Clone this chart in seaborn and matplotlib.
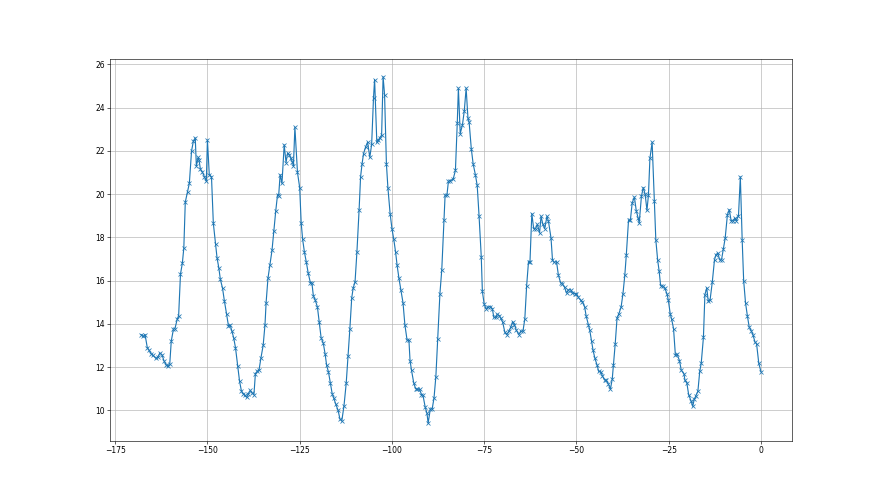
import matplotlib
matplotlib.use("Agg")
import matplotlib.pyplot as plt
import seaborn as sns
import pandas as pd

hours = [
    -168.0, -167.4, -166.9, -166.3, -165.8, -165.2, -164.7, -164.0, -163.4, -162.9,
    -162.3, -161.8, -161.2, -160.8, -160.2, -159.8, -159.2, -158.8, -158.2, -157.8,
    -157.3, -156.8, -156.4, -156.0, -155.4, -154.9, -154.3, -153.8, -153.3, -153.0,
    -152.5, -152.3, -151.9, -151.4, -150.8, -150.3, -150.0, -149.5, -148.9, -148.4,
    -147.8, -147.4, -146.9, -146.5, -145.9, -145.4, -144.8, -144.3, -143.8, -143.4,
    -142.9, -142.4, -141.8, -141.3,
    -140.8, -140.3, -139.9, -139.4, -138.9, -138.4, -137.9, -137.4, -137.0, -136.5,
    -136.0, -135.5, -134.9, -134.4, -134.1, -133.6, -133.1, -132.5, -132.0, -131.5,
    -131.0, -130.7, -130.3, -129.8, -129.2, -128.7, -128.3, -127.9, -127.4, -127.0,
    -126.7, -126.3, -125.6, -125.0, -124.6, -124.2, -123.7, -123.2, -122.7, -122.1,
    -121.7, -121.3, -120.8, -120.2, -119.7, -119.2, -118.6, -118.1, -117.7, -117.2,
    -116.7, -116.2, -115.8, -115.2, -114.6, -114.1, -113.6,
    -113.0, -112.4, -111.9, -111.4, -110.9, -110.5, -110.0, -109.5, -108.9, -108.5,
    -108.1, -107.7, -107.1, -106.6, -106.0, -105.5, -105.0, -104.7, -104.1, -103.7,
    -103.3, -102.8, -102.4, -102.0, -101.5, -101.1, -100.5, -100.0, -99.5, -99.0,
    -98.6, -98.1, -97.6, -97.0, -96.5, -95.9, -95.4, -95.1, -94.7, -94.1,
    -93.6, -93.1, -92.5, -92.0, -91.6, -91.0, -90.5, -90.2, -89.6, -89.1,
    -88.6, -88.1, -87.6, -87.0, -86.5, -85.9, -85.6, -85.1, -84.7, -84.4,
    -83.4, -82.8, -82.3, -82.0, -81.5, -80.9, -80.4, -79.9, -79.4, -79.1,
    -78.5, -78.0, -77.4, -76.9, -76.4, -75.8, -75.5, -75.0, -74.5, -73.9,
    -73.4, -72.8, -72.4, -71.8, -71.5, -70.9, -70.5, -70.0, -69.4, -68.9,
    -68.3, -67.8, -67.3, -66.8, -66.3, -65.6, -65.1, -64.5, -64.0, -63.5,
    -63.0, -62.6, -62.1, -61.6, -61.1, -60.6, -60.0, -59.6, -59.1, -58.6,
    -58.0, -57.6, -56.9, -56.5, -56.1,
    -55.4, -54.9, -54.3, -53.8, -53.2, -52.7, -52.2, -51.6, -51.1, -50.5,
    -50.0, -49.5, -48.9, -48.4, -47.8, -47.4, -46.8, -46.4, -45.9, -45.5,
    -45.0, -44.4, -44.0, -43.4, -43.0, -42.4, -41.9, -41.4, -40.8, -40.3,
    -40.0, -39.5, -39.0, -38.5, -37.9, -37.4, -36.9, -36.5, -35.9, -35.4,
    -34.9, -34.3, -33.8, -33.3, -33.0, -32.4, -31.9, -31.4, -30.9, -30.5,
    -30.1, -29.5, -28.9, -28.5, -28.0, -27.6,
    -27.2, -26.6, -26.1, -25.5, -25.1, -24.6, -24.2, -23.7, -23.2, -22.7,
    -22.1, -21.6, -20.9, -20.6, -20.1, -19.6, -19.0, -18.5, -18.1, -17.7,
    -17.1, -16.6, -16.2, -15.6, -15.2, -14.7, -14.3, -13.8, -13.2, -12.6,
    -12.2, -11.7, -11.2, -10.7, -10.2, -9.7, -9.1, -8.6, -8.1, -7.6,
    -7.1, -6.7, -6.1, -5.6, -5.1, -4.7, -4.2, -3.7, -3.2, -2.6,
    -2.2, -1.6, -1.2, -0.6, 0.0,
]

values = [
    13.5, 13.42, 13.5, 12.9, 12.77, 12.6, 12.54, 12.4, 12.47, 12.65,
    12.56, 12.3, 12.1, 12.03, 12.16, 13.2, 13.76, 13.78, 14.2, 14.38,
    16.3, 16.8, 17.5, 19.63, 20.1, 20.5, 22.0, 22.45, 22.6, 21.3,
    21.7, 21.6, 21.15, 21.03, 20.8, 20.6, 22.5, 20.9, 20.8, 18.65,
    17.68, 17.06, 16.57, 16.06, 15.64, 15.05, 14.44, 13.9, 13.93, 13.67,
    13.36, 12.9, 12.05, 11.35,
    10.9, 10.77, 10.7, 10.6, 10.77, 10.92, 10.8, 10.72, 11.7, 11.8,
    11.88, 12.42, 13.0, 13.96, 14.98, 16.1, 16.7, 17.4, 18.3, 19.2,
    19.98, 19.92, 20.9, 20.5, 22.28, 21.46, 21.88, 21.83, 21.65, 21.5,
    21.3, 23.1, 21.0, 20.3, 18.68, 17.9, 17.3, 16.85, 16.35, 15.9,
    15.9, 15.3, 15.1, 14.78, 14.08, 13.36, 13.1, 12.59, 12.08, 11.77,
    11.26, 10.77, 10.58, 10.27, 10.0, 9.6, 9.5,
    10.2, 11.24, 12.52, 13.78, 15.2, 15.66, 15.94, 17.3, 19.28, 20.8,
    21.4, 21.87, 22.2, 22.4, 21.7, 22.3, 24.45, 25.3, 22.4, 22.5,
    22.6, 22.73, 25.43, 24.6, 21.4, 20.3, 19.1, 18.4, 17.9, 17.3,
    16.7, 16.1, 15.58, 14.97, 13.96, 13.24, 13.24, 12.3, 11.85, 11.27,
    11.0, 10.97, 10.97, 10.72, 10.7, 10.15, 9.85, 9.4, 10.06, 10.06,
    10.57, 11.56, 13.3, 15.4, 16.5, 18.8, 19.95, 19.95, 20.6, 20.6,
    20.7, 21.1, 23.3, 24.9, 22.8, 23.2, 23.85, 24.9, 23.5, 23.35,
    22.1, 21.4, 20.9, 20.4, 19.0, 17.1, 15.5, 14.9, 14.7, 14.78,
    14.8, 14.7, 14.3, 14.3, 14.45, 14.38, 14.25, 14.08, 13.6, 13.5,
    13.66, 13.85, 14.1, 13.96, 13.7, 13.5, 13.66, 13.66, 14.22, 15.77,
    16.87, 16.87, 19.1, 18.4, 18.4, 18.6, 18.2, 18.97, 18.6, 18.4,
    18.97, 18.75, 17.97, 16.95, 16.85,
    16.87, 16.25, 15.9, 15.84, 15.68, 15.42, 15.57, 15.58, 15.42, 15.4,
    15.4, 15.22, 15.1, 15.0, 14.8, 14.38, 13.96, 13.7, 13.2, 12.77,
    12.4, 12.08, 11.8, 11.77, 11.6, 11.4, 11.38, 11.23, 10.97, 11.46,
    12.08, 13.08, 14.28, 14.47, 14.78, 15.4, 16.25, 17.18, 18.78, 18.78,
    19.6, 19.86, 19.23, 18.9, 18.66, 19.9, 20.3, 20.0, 19.25, 19.95,
    21.65, 22.4, 19.7, 17.88, 16.94, 16.44,
    15.77, 15.74, 15.66, 15.4, 15.08, 14.47, 14.2, 13.78, 12.55, 12.58,
    12.3, 11.85, 11.7, 11.38, 11.27, 10.72, 10.45, 10.18, 10.5, 10.65,
    10.88, 11.8, 12.17, 13.37, 15.35, 15.66, 15.05, 15.1, 15.93, 16.96,
    17.2, 17.27, 16.96, 16.96, 17.46, 17.97, 19.05, 19.28, 18.77, 18.77,
    18.88, 18.77, 19.0, 20.8, 17.88, 16.0, 14.98, 14.38, 13.85, 13.66,
    13.5, 13.14, 13.08, 12.17, 11.78,
]

n = min(len(hours), len(values))
df = pd.DataFrame({"hour": hours[:n], "value": values[:n]})

fig, ax = plt.subplots(figsize=(16, 9), dpi=55)
sns.lineplot(data=df, x="hour", y="value", ax=ax, estimator=None, sort=False,
             color="#1f77b4", linewidth=1.5, marker="x", markersize=6,
             markeredgecolor="#1f77b4", markeredgewidth=1.0)
ax.grid(True, color="#b0b0b0", linewidth=0.8)
ax.set_xlabel("")
ax.set_ylabel("")
ax.set_xticks([-175, -150, -125, -100, -75, -50, -25, 0])
ax.set_yticks([10, 12, 14, 16, 18, 20, 22, 24, 26])
fig.savefig("out.png", dpi=55)
